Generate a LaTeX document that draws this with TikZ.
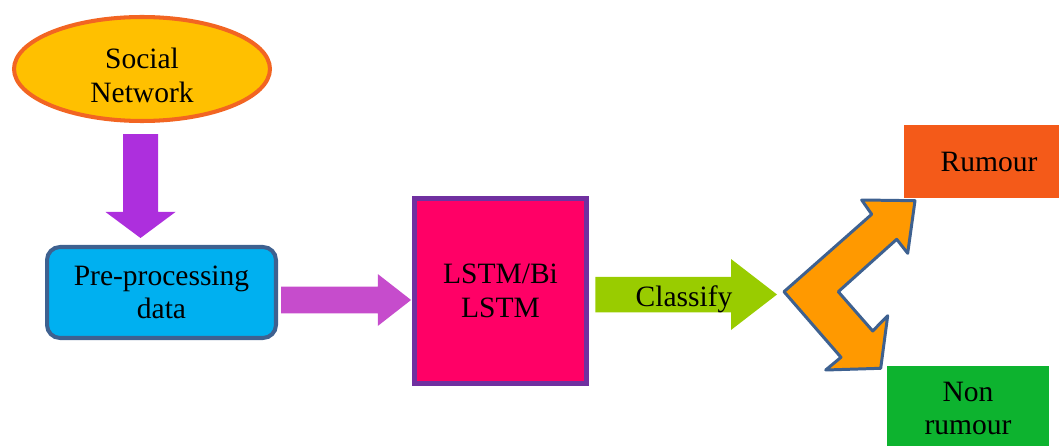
\documentclass[tikz,border=0pt]{standalone}
\usepackage{fontspec}
\setmainfont{Liberation Serif}
\newfontfamily\diagfont{Liberation Serif}
\usepackage{xcolor}
\usepackage{tikz}
\usetikzlibrary{calc, positioning, shapes.geometric}

\definecolor{snFill}{HTML}{FFC000}
\definecolor{snLine}{HTML}{F26522}
\definecolor{downPurple}{HTML}{AD2FDD}
\definecolor{preFill}{HTML}{00B0F0}
\definecolor{darkBlue}{HTML}{3E6190}
\definecolor{sidePink}{HTML}{C64CCC}
\definecolor{lstmFill}{HTML}{FF0066}
\definecolor{lstmLine}{HTML}{7030A0}
\definecolor{clfGreen}{HTML}{99CC00}
\definecolor{forkOrange}{HTML}{FF9900}
\definecolor{rumFill}{HTML}{F45A19}
\definecolor{nonFill}{HTML}{0DB32F}

\tikzset{
    txt/.style={font=\diagfont\fontsize{16.8}{19}\selectfont, align=center, inner sep=0pt},
    source/.style={txt, ellipse, draw=snLine, fill=snFill, line width=2.3pt, minimum width=5.12cm, minimum height=2.08cm},
    prep/.style={txt, rectangle, draw=darkBlue, fill=preFill, line width=2.3pt, rounded corners=0.26cm, minimum width=4.58cm, minimum height=1.82cm},
    model/.style={txt, rectangle, draw=lstmLine, fill=lstmFill, line width=2.8pt, minimum width=3.44cm, minimum height=3.7cm},
    outcome/.style={txt, rectangle, minimum width=#1, minimum height=1.46cm},
    outcome/.default=3.4cm
}

% fat block arrows between two named points
\newcommand{\downblock}[6]{\fill[#1] ($(#2)+(-#4,0)$) -- ($(#3)+(-#4,-#6)$) -- ($(#3)+(-#5,-#6)$) -- (#3) -- ($(#3)+(#5,-#6)$) -- ($(#3)+(#4,-#6)$) -- ($(#2)+(#4,0)$) -- cycle;}
\newcommand{\rightblock}[6]{\fill[#1] ($(#2)+(0,-#4)$) -- ($(#3)+(-#6,-#4)$) -- ($(#3)+(-#6,-#5)$) -- (#3) -- ($(#3)+(-#6,#5)$) -- ($(#3)+(-#6,#4)$) -- ($(#2)+(0,#4)$) -- cycle;}

\begin{document}
\begin{tikzpicture}[x=0.02cm, y=-0.02cm]
    \clip (0,0) rectangle (1059,446);

    \node[source, label={[txt, yshift=-0.13cm]center:Social\\Network}] (sn) at (142,69) {};
    \node[prep] (pre) at (161.5,292.5) {Pre-processing\\data};
    \node[model] (lstm) at (500.5,291) {LSTM/Bi\\LSTM};
    \node[outcome, fill=rumFill] (rum) at (989,161.5) {Rumour};
    \node[outcome=3.24cm, fill=nonFill, minimum height=1.7cm] (non) at (968,408.5) {Non\\rumour};

    \coordinate (fork) at (784,291.7);

    % straight arrows
    \coordinate (a1) at ($(sn.south)+(-1.5,11)$);
    \coordinate (a2) at ($(a1 |- pre.north)+(0,-7)$);
    \downblock{downPurple}{a1}{a2}{17.5}{35}{26}

    \coordinate (m1) at ($(pre.east)+(3,7.5)$);
    \coordinate (m2) at ($(lstm.west)+(-1,9)$);
    \rightblock{sidePink}{m1}{m2}{13.3}{26}{33.3}

    \coordinate (g1) at ($(lstm.east)+(6.5,3.5)$);
    \coordinate (g2) at ($(fork)+(-7,2.8)$);
    \rightblock{clfGreen}{g1}{g2}{17.75}{35.5}{46}
    \node[txt, anchor=base] (clf) at (684,306) {Classify};

    % bent double arrow to the two classes
    \draw[darkBlue, fill=forkOrange, line width=1.7pt, line join=round]
        (fork) -- (871.7,214.3) -- (861.7,200) -- (915,200.7) -- (907.7,253.3) -- (896.7,239.3)
        -- (838.3,291.7) -- (872.7,331) -- (887.7,315.7) -- (880.7,368.3) -- (825.7,370) -- (841,357.3) -- cycle;
\end{tikzpicture}
\end{document}
